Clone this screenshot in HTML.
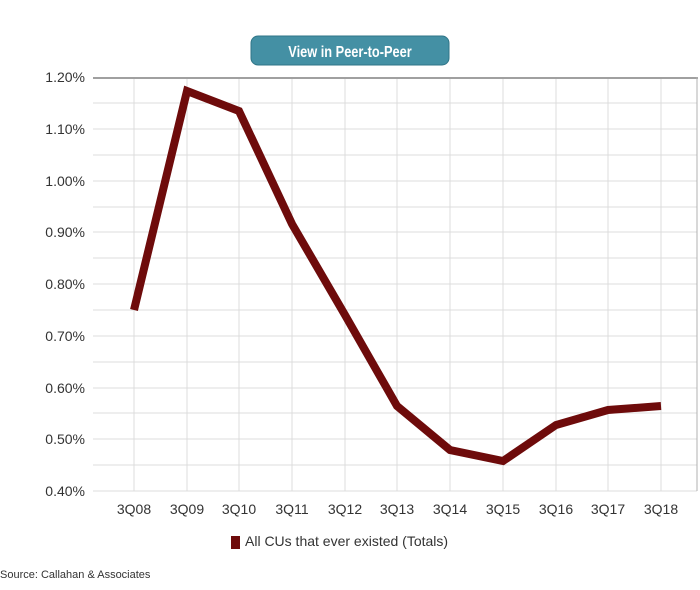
<!DOCTYPE html>
<html><head><style>
body{margin:0;background:#fff;width:700px;height:590px;overflow:hidden;font-family:"Liberation Sans",sans-serif}
</style></head><body>
<svg width="700" height="590" xmlns="http://www.w3.org/2000/svg" style="position:absolute;left:0;top:0">
<rect x="251" y="36" width="198" height="29" rx="7" fill="#4490a4" stroke="#2f7587" stroke-width="1"/>
<text x="350" y="57" text-anchor="middle" fill="#fff" font-family="Liberation Sans Narrow, Liberation Sans, sans-serif" font-weight="bold" font-size="16" transform="translate(350,0) scale(0.8,1) translate(-350,0)">View in Peer-to-Peer</text>
<g stroke="#dcdcdc" stroke-width="1">
<line x1="93" y1="103" x2="697" y2="103"/><line x1="93" y1="129" x2="697" y2="129"/><line x1="93" y1="155" x2="697" y2="155"/><line x1="93" y1="181" x2="697" y2="181"/><line x1="93" y1="207" x2="697" y2="207"/><line x1="93" y1="232" x2="697" y2="232"/><line x1="93" y1="258" x2="697" y2="258"/><line x1="93" y1="284" x2="697" y2="284"/><line x1="93" y1="310" x2="697" y2="310"/><line x1="93" y1="336" x2="697" y2="336"/><line x1="93" y1="362" x2="697" y2="362"/><line x1="93" y1="388" x2="697" y2="388"/><line x1="93" y1="413" x2="697" y2="413"/><line x1="93" y1="439" x2="697" y2="439"/><line x1="93" y1="465" x2="697" y2="465"/><line x1="93" y1="491" x2="697" y2="491"/>
<line x1="134" y1="77" x2="134" y2="491"/><line x1="187" y1="77" x2="187" y2="491"/><line x1="239" y1="77" x2="239" y2="491"/><line x1="292" y1="77" x2="292" y2="491"/><line x1="345" y1="77" x2="345" y2="491"/><line x1="397" y1="77" x2="397" y2="491"/><line x1="450" y1="77" x2="450" y2="491"/><line x1="503" y1="77" x2="503" y2="491"/><line x1="556" y1="77" x2="556" y2="491"/><line x1="608" y1="77" x2="608" y2="491"/><line x1="661" y1="77" x2="661" y2="491"/>
</g>
<line x1="93" y1="78" x2="698" y2="78" stroke="#a0a0a0" stroke-width="2"/>
<line x1="697" y1="77" x2="697" y2="491" stroke="#b0b0b0" stroke-width="1"/>
<g font-size="14" fill="#333" text-anchor="end">
<text x="85" y="82">1.20%</text><text x="85" y="134">1.10%</text><text x="85" y="186">1.00%</text><text x="85" y="237">0.90%</text><text x="85" y="289">0.80%</text><text x="85" y="341">0.70%</text><text x="85" y="393">0.60%</text><text x="85" y="444">0.50%</text><text x="85" y="496">0.40%</text>
</g>
<g font-size="14" fill="#333" text-anchor="middle">
<text x="134" y="514">3Q08</text><text x="187" y="514">3Q09</text><text x="239" y="514">3Q10</text><text x="292" y="514">3Q11</text><text x="345" y="514">3Q12</text><text x="397" y="514">3Q13</text><text x="450" y="514">3Q14</text><text x="503" y="514">3Q15</text><text x="556" y="514">3Q16</text><text x="608" y="514">3Q17</text><text x="661" y="514">3Q18</text>
</g>
<polyline fill="none" stroke="#6e0b0b" stroke-width="8" stroke-linejoin="miter" points="134,310 187,91 239,111 292,224 345,315 397,406 450,450 503,461 556,425 608,410 661,406"/>
<rect x="231" y="536" width="9" height="13" fill="#6e0b0b"/>
<text x="245" y="546" font-size="14" fill="#333">All CUs that ever existed (Totals)</text>
<text x="0" y="578" font-size="11" fill="#333">Source: Callahan &amp; Associates</text>
</svg>
</body></html>
